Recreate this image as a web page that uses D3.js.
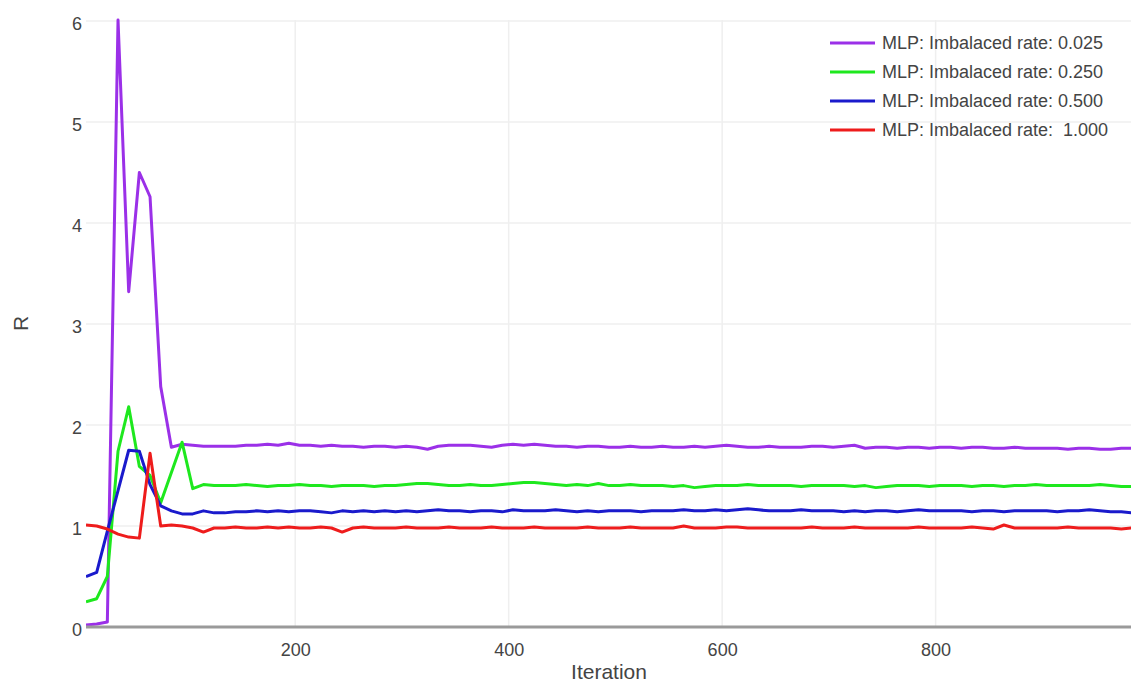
<!DOCTYPE html>
<html>
<head>
<meta charset="utf-8">
<script src="https://cdn.jsdelivr.net/npm/d3@7"></script>
<style>
  html, body { margin: 0; padding: 0; background: #fff; }
  svg { display: block; font-family: "Liberation Sans", Arial, sans-serif; }
</style>
</head>
<body>
<svg id="chart" width="1131" height="684"></svg>
<script>
// ---- data, one point every 10 iterations ----
const iterStart = 4;
const iterStep = 10;

const r025 = [
  0.02, 0.03, 0.05, 6.01, 3.32, 4.50, 4.26, 2.38, 1.78, 1.81,
  1.80, 1.79, 1.79, 1.79, 1.79, 1.80, 1.80, 1.81, 1.80, 1.82,
  1.80, 1.80, 1.79, 1.80, 1.79, 1.79, 1.78, 1.79, 1.79, 1.78,
  1.79, 1.78, 1.76, 1.79, 1.80, 1.80, 1.80, 1.79, 1.78, 1.80,
  1.81, 1.80, 1.81, 1.80, 1.79, 1.79, 1.78, 1.79, 1.79, 1.78,
  1.78, 1.79, 1.78, 1.78, 1.79, 1.78, 1.78, 1.79, 1.78, 1.79,
  1.80, 1.79, 1.78, 1.78, 1.79, 1.78, 1.78, 1.78, 1.79, 1.79,
  1.78, 1.79, 1.80, 1.77, 1.78, 1.78, 1.77, 1.78, 1.78, 1.77,
  1.78, 1.78, 1.77, 1.78, 1.78, 1.77, 1.77, 1.78, 1.77, 1.77,
  1.77, 1.77, 1.76, 1.77, 1.77, 1.76, 1.76, 1.77, 1.77
];

const r250 = [
  0.25, 0.28, 0.50, 1.74, 2.18, 1.59, 1.50, 1.23, 1.53, 1.83,
  1.37, 1.41, 1.40, 1.40, 1.40, 1.41, 1.40, 1.39, 1.40, 1.40,
  1.41, 1.40, 1.40, 1.39, 1.40, 1.40, 1.40, 1.39, 1.40, 1.40,
  1.41, 1.42, 1.42, 1.41, 1.40, 1.40, 1.41, 1.40, 1.40, 1.41,
  1.42, 1.43, 1.43, 1.42, 1.41, 1.40, 1.41, 1.40, 1.42, 1.40,
  1.40, 1.41, 1.40, 1.40, 1.40, 1.39, 1.40, 1.38, 1.39, 1.40,
  1.40, 1.40, 1.41, 1.40, 1.40, 1.40, 1.40, 1.39, 1.40, 1.40,
  1.40, 1.40, 1.39, 1.40, 1.38, 1.39, 1.40, 1.40, 1.40, 1.39,
  1.40, 1.40, 1.40, 1.39, 1.40, 1.40, 1.39, 1.40, 1.40, 1.41,
  1.40, 1.40, 1.40, 1.40, 1.40, 1.41, 1.40, 1.39, 1.39
];

const r500 = [
  0.50, 0.54, 0.95, 1.35, 1.75, 1.74, 1.41, 1.20, 1.15, 1.12,
  1.12, 1.15, 1.13, 1.13, 1.14, 1.14, 1.15, 1.14, 1.15, 1.14,
  1.15, 1.15, 1.14, 1.13, 1.15, 1.14, 1.15, 1.14, 1.15, 1.14,
  1.15, 1.14, 1.15, 1.16, 1.15, 1.15, 1.14, 1.15, 1.15, 1.14,
  1.16, 1.15, 1.15, 1.15, 1.16, 1.15, 1.14, 1.15, 1.14, 1.15,
  1.15, 1.15, 1.14, 1.15, 1.15, 1.15, 1.16, 1.15, 1.15, 1.16,
  1.15, 1.16, 1.17, 1.16, 1.15, 1.15, 1.15, 1.16, 1.15, 1.15,
  1.15, 1.14, 1.15, 1.14, 1.15, 1.15, 1.14, 1.15, 1.16, 1.15,
  1.15, 1.15, 1.15, 1.14, 1.15, 1.15, 1.14, 1.15, 1.15, 1.15,
  1.15, 1.14, 1.15, 1.15, 1.16, 1.15, 1.14, 1.14, 1.13
];

const r1000 = [
  1.01, 1.00, 0.97, 0.92, 0.89, 0.88, 1.72, 1.00, 1.01, 1.00,
  0.98, 0.94, 0.98, 0.98, 0.99, 0.98, 0.98, 0.99, 0.98, 0.99,
  0.98, 0.98, 0.99, 0.98, 0.94, 0.98, 0.99, 0.98, 0.98, 0.98,
  0.99, 0.98, 0.98, 0.98, 0.99, 0.98, 0.98, 0.98, 0.99, 0.98,
  0.98, 0.98, 0.99, 0.98, 0.98, 0.98, 0.98, 0.99, 0.98, 0.98,
  0.98, 0.99, 0.98, 0.98, 0.98, 0.98, 1.00, 0.98, 0.98, 0.98,
  0.99, 0.99, 0.98, 0.98, 0.98, 0.98, 0.98, 0.98, 0.99, 0.98,
  0.98, 0.98, 0.99, 0.98, 0.98, 0.98, 0.98, 0.98, 0.99, 0.98,
  0.98, 0.98, 0.98, 0.99, 0.98, 0.97, 1.01, 0.98, 0.98, 0.98,
  0.98, 0.98, 0.99, 0.98, 0.98, 0.98, 0.98, 0.97, 0.98
];

const seriesNames = [
  "MLP: Imbalaced rate: 0.025",
  "MLP: Imbalaced rate: 0.250",
  "MLP: Imbalaced rate: 0.500",
  "MLP: Imbalaced rate:  1.000"
];
const seriesValues = [r025, r250, r500, r1000];
const seriesColors = ["#9b30e8", "#1ee81e", "#1a1acc", "#ee1c1c"];

const xTicks = [200, 400, 600, 800];
const yTicks = [0, 1, 2, 3, 4, 5, 6];

(() => {
  // ---- layout ----
  const W = 1131, H = 684;
  const mL = 86, mR = 1132, mT = 20, mB = 627;
  const font = "Liberation Sans, Arial, sans-serif";

  const svg = d3.select("#chart");
  svg.append("rect").attr("width", W).attr("height", H).attr("fill", "#fff");

  const nPts = r025.length;
  const xMax = iterStart + iterStep * (nPts - 1);
  const x = d3.scaleLinear().domain([iterStart, xMax]).range([mL, mR]);
  const y = d3.scaleLinear().domain([0, 6.01]).range([mB, mT]);

  // grid
  const grid = svg.append("g");
  grid.selectAll("line.v").data(xTicks).join("line").attr("class", "v")
    .attr("x1", d => x(d)).attr("x2", d => x(d))
    .attr("y1", mT).attr("y2", mB)
    .attr("stroke", "#efefef").attr("stroke-width", 1.5);
  grid.selectAll("line.h").data(yTicks.filter(d => d > 0)).join("line").attr("class", "h")
    .attr("x1", mL).attr("x2", mR)
    .attr("y1", d => y(d)).attr("y2", d => y(d))
    .attr("stroke", "#efefef").attr("stroke-width", 1.5);

  // axes via d3 axis, then restyled
  const xAxis = svg.append("g")
    .attr("transform", `translate(0,${mB})`)
    .call(d3.axisBottom(x).tickValues(xTicks).tickFormat(d3.format("d"))
      .tickSize(0).tickPadding(16));
  xAxis.select(".domain").remove();
  xAxis.selectAll("text").attr("font-size", 18).attr("fill", "#444")
    .attr("font-family", font);

  const yAxis = svg.append("g")
    .attr("transform", `translate(${mL},0)`)
    .call(d3.axisLeft(y).tickValues(yTicks).tickFormat(d3.format("d"))
      .tickSize(0).tickPadding(4));
  yAxis.select(".domain").remove();
  yAxis.selectAll("text").attr("font-size", 18).attr("fill", "#444")
    .attr("dy", "0.45em")
    .attr("font-family", font);

  // series
  svg.append("clipPath").attr("id", "plotclip")
    .append("rect").attr("x", mL).attr("y", 0)
    .attr("width", mR - mL).attr("height", mB + 2);

  const line = d3.line()
    .x((d, i) => x(iterStart + i * iterStep))
    .y(d => y(d));

  const lines = svg.append("g").attr("clip-path", "url(#plotclip)");
  seriesValues.forEach((vals, k) => {
    lines.append("path")
      .datum(vals)
      .attr("d", line)
      .attr("fill", "none")
      .attr("stroke", seriesColors[k])
      .attr("stroke-width", 3)
      .attr("stroke-linejoin", "round");
  });

  // zero line along the bottom
  svg.append("line")
    .attr("x1", mL).attr("x2", W)
    .attr("y1", y(0)).attr("y2", y(0))
    .attr("stroke", "#9a9a9a").attr("stroke-width", 3);

  // axis titles
  svg.append("text")
    .attr("x", (mL + mR) / 2).attr("y", 679)
    .attr("text-anchor", "middle")
    .attr("font-size", 21).attr("fill", "#444")
    .text("Iteration");

  svg.append("text")
    .attr("transform", `translate(28,${(mT + mB) / 2}) rotate(-90)`)
    .attr("text-anchor", "middle")
    .attr("font-size", 21).attr("fill", "#444")
    .text("R");

  // legend
  const legend = svg.append("g").attr("transform", "translate(830,43)");
  seriesNames.forEach((name, k) => {
    const row = legend.append("g").attr("transform", `translate(0,${k * 29})`);
    row.append("line")
      .attr("x1", 0).attr("x2", 45)
      .attr("stroke", seriesColors[k]).attr("stroke-width", 3);
    row.append("text")
      .attr("x", 52).attr("dy", "0.36em")
      .attr("font-size", 18).attr("fill", "#444")
      .style("white-space", "pre")
      .text(name);
  });
})();
</script>
</body>
</html>
